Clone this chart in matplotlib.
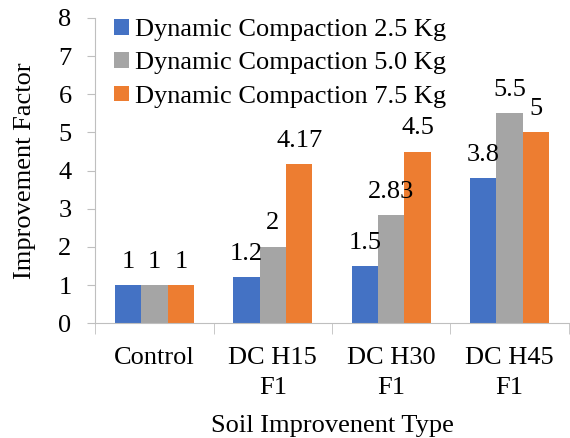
import matplotlib.pyplot as plt
import numpy as np

plt.rcParams['font.family'] = ['Liberation Serif', 'DejaVu Serif']

categories = ['Control', 'DC H15\nF1', 'DC H30\nF1', 'DC H45\nF1']
series_names = ['Dynamic Compaction 2.5 Kg',
                'Dynamic Compaction 5.0 Kg',
                'Dynamic Compaction 7.5 Kg']
values_25 = [1, 1.2, 1.5, 3.8]
values_50 = [1, 2, 2.83, 5.5]
values_75 = [1, 4.17, 4.5, 5]
labels_25 = ['1', '1.2', '1.5', '3.8']
labels_50 = ['1', '2', '2.83', '5.5']
labels_75 = ['1', '4.17', '4.5', '5']
colors = ['#4472C4', '#A5A5A5', '#ED7D31']

fs = 19

fig = plt.figure(figsize=(5.7, 4.38), dpi=100)
ax = fig.add_axes([0.167, 0.262, 0.831, 0.697])

x = np.arange(len(categories))
width = 0.223
all_vals = [values_25, values_50, values_75]
all_labels = [labels_25, labels_50, labels_75]

for i in range(3):
    pos = x + (i - 1) * width
    ax.bar(pos, all_vals[i], width, color=colors[i], label=series_names[i])
    for p, v, t in zip(pos, all_vals[i], all_labels[i]):
        ax.annotate(t, (p, v), xytext=(0, 9), textcoords='offset points',
                    ha='center', va='bottom', fontsize=fs)

ax.set_xlim(-0.5, len(categories) - 0.5)
ax.set_ylim(0, 8)
ax.set_yticks(range(0, 9))
ax.set_xticks(x)
ax.set_xticklabels(categories, fontsize=fs, linespacing=1.45)
ax.set_xticks(np.arange(-0.5, len(categories)), minor=True)
ax.tick_params(axis='x', which='major', length=0, pad=17)
ax.tick_params(axis='x', which='minor', length=8, color='#BFBFBF')
ax.tick_params(axis='y', labelsize=fs, length=6, pad=11, color='#BFBFBF')

for s in ['top', 'right']:
    ax.spines[s].set_visible(False)
for s in ['left', 'bottom']:
    ax.spines[s].set_color('#BFBFBF')

ax.set_xlabel('Soil Improvenent Type', fontsize=fs, labelpad=12)
ax.set_ylabel('Improvement Factor', fontsize=fs, labelpad=16)

ax.legend(loc='upper left', bbox_to_anchor=(-0.01, 1.075), frameon=False,
          fontsize=fs, handlelength=0.55, handleheight=0.55,
          handletextpad=0.25, labelspacing=0.42)

fig.savefig('out.png', dpi=100)
